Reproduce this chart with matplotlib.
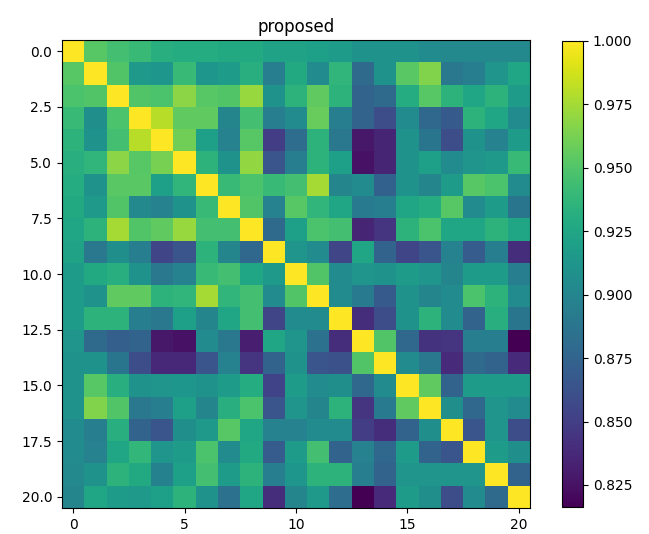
import numpy as np
import matplotlib
matplotlib.use("Agg")
import matplotlib.pyplot as plt

title = "proposed"
vmin, vmax = 0.8163, 1.0
x_ticks = [0, 5, 10, 15, 20]

row_00 = [1.000, 0.952, 0.945, 0.940, 0.932, 0.930, 0.930, 0.928, 0.928, 0.922, 0.922, 0.920, 0.918, 0.910, 0.910, 0.910, 0.905, 0.903, 0.903, 0.903, 0.903]
row_01 = [0.952, 1.000, 0.950, 0.915, 0.913, 0.940, 0.913, 0.918, 0.932, 0.895, 0.928, 0.905, 0.937, 0.880, 0.910, 0.953, 0.965, 0.890, 0.895, 0.912, 0.925]
row_02 = [0.948, 0.950, 1.000, 0.950, 0.948, 0.968, 0.952, 0.950, 0.972, 0.910, 0.935, 0.955, 0.935, 0.875, 0.880, 0.930, 0.952, 0.935, 0.925, 0.935, 0.918]
row_03 = [0.940, 0.908, 0.948, 1.000, 0.980, 0.955, 0.955, 0.900, 0.945, 0.895, 0.905, 0.957, 0.895, 0.875, 0.860, 0.905, 0.878, 0.868, 0.935, 0.925, 0.905]
row_04 = [0.935, 0.910, 0.945, 0.980, 1.000, 0.960, 0.920, 0.898, 0.952, 0.850, 0.882, 0.935, 0.890, 0.828, 0.835, 0.910, 0.888, 0.860, 0.910, 0.898, 0.918]
row_05 = [0.932, 0.937, 0.968, 0.952, 0.962, 1.000, 0.935, 0.910, 0.970, 0.865, 0.895, 0.935, 0.920, 0.825, 0.835, 0.910, 0.920, 0.905, 0.912, 0.915, 0.940]
row_06 = [0.930, 0.910, 0.953, 0.953, 0.920, 0.937, 1.000, 0.940, 0.948, 0.940, 0.945, 0.975, 0.900, 0.905, 0.873, 0.910, 0.900, 0.918, 0.952, 0.948, 0.905]
row_07 = [0.928, 0.915, 0.950, 0.903, 0.898, 0.910, 0.940, 1.000, 0.950, 0.898, 0.952, 0.937, 0.925, 0.893, 0.895, 0.925, 0.930, 0.952, 0.905, 0.918, 0.888]
row_08 = [0.925, 0.935, 0.975, 0.950, 0.955, 0.972, 0.945, 0.945, 1.000, 0.880, 0.920, 0.948, 0.945, 0.835, 0.845, 0.935, 0.948, 0.925, 0.925, 0.935, 0.925]
row_09 = [0.922, 0.890, 0.908, 0.895, 0.855, 0.865, 0.935, 0.900, 0.878, 1.000, 0.912, 0.905, 0.855, 0.925, 0.875, 0.855, 0.865, 0.898, 0.870, 0.895, 0.840]
row_10 = [0.918, 0.928, 0.932, 0.910, 0.890, 0.898, 0.940, 0.945, 0.925, 0.915, 1.000, 0.950, 0.905, 0.912, 0.910, 0.918, 0.912, 0.900, 0.918, 0.918, 0.895]
row_11 = [0.918, 0.910, 0.955, 0.955, 0.935, 0.937, 0.975, 0.937, 0.945, 0.905, 0.950, 1.000, 0.905, 0.893, 0.868, 0.910, 0.900, 0.905, 0.948, 0.935, 0.905]
row_12 = [0.918, 0.935, 0.935, 0.895, 0.890, 0.920, 0.900, 0.925, 0.945, 0.855, 0.905, 0.905, 1.000, 0.840, 0.860, 0.910, 0.935, 0.905, 0.875, 0.932, 0.888]
row_13 = [0.912, 0.880, 0.872, 0.875, 0.828, 0.825, 0.905, 0.890, 0.832, 0.925, 0.912, 0.885, 0.840, 1.000, 0.950, 0.878, 0.843, 0.845, 0.895, 0.895, 0.816]
row_14 = [0.910, 0.910, 0.888, 0.860, 0.837, 0.837, 0.865, 0.898, 0.845, 0.875, 0.910, 0.865, 0.862, 0.950, 1.000, 0.905, 0.890, 0.838, 0.880, 0.875, 0.838]
row_15 = [0.910, 0.952, 0.932, 0.910, 0.912, 0.913, 0.910, 0.918, 0.930, 0.853, 0.918, 0.905, 0.908, 0.878, 0.905, 1.000, 0.955, 0.875, 0.918, 0.918, 0.918]
row_16 = [0.910, 0.965, 0.950, 0.890, 0.895, 0.920, 0.900, 0.932, 0.948, 0.865, 0.912, 0.900, 0.935, 0.845, 0.892, 0.955, 1.000, 0.908, 0.878, 0.912, 0.905]
row_17 = [0.905, 0.895, 0.932, 0.875, 0.865, 0.908, 0.915, 0.952, 0.925, 0.898, 0.898, 0.905, 0.905, 0.850, 0.840, 0.875, 0.908, 1.000, 0.865, 0.912, 0.860]
row_18 = [0.905, 0.898, 0.925, 0.938, 0.912, 0.918, 0.948, 0.905, 0.928, 0.870, 0.918, 0.945, 0.875, 0.898, 0.878, 0.918, 0.875, 0.865, 1.000, 0.918, 0.908]
row_19 = [0.903, 0.910, 0.935, 0.928, 0.897, 0.920, 0.945, 0.918, 0.935, 0.895, 0.913, 0.935, 0.935, 0.895, 0.875, 0.912, 0.912, 0.912, 0.912, 1.000, 0.875]
row_20 = [0.900, 0.925, 0.918, 0.915, 0.920, 0.935, 0.910, 0.885, 0.925, 0.840, 0.900, 0.915, 0.882, 0.816, 0.838, 0.918, 0.908, 0.860, 0.905, 0.880, 1.000]

matrix = np.array([row_00, row_01, row_02, row_03, row_04, row_05, row_06, row_07,
                   row_08, row_09, row_10, row_11, row_12, row_13, row_14, row_15,
                   row_16, row_17, row_18, row_19, row_20])

W, H = 649, 534
fig = plt.figure(figsize=(W / 100, H / 100), dpi=100)
ax = fig.add_axes([62 / W, (H - 508) / H, (530 - 62) / W, (508 - 40) / H])
im = ax.imshow(matrix, cmap="viridis", vmin=vmin, vmax=vmax, aspect="auto")
ax.set_xticks(x_ticks)
ax.set_title(title, fontsize=12)
cax = fig.add_axes([562 / W, (H - 507) / H, (583 - 562) / W, (507 - 41) / H])
cb = fig.colorbar(im, cax=cax)
cb.set_ticks([0.825, 0.85, 0.875, 0.9, 0.925, 0.95, 0.975, 1.0])
cb.set_ticklabels(["0.825", "0.850", "0.875", "0.900", "0.925", "0.950", "0.975", "1.000"])
fig.savefig("out.png", dpi=100)
